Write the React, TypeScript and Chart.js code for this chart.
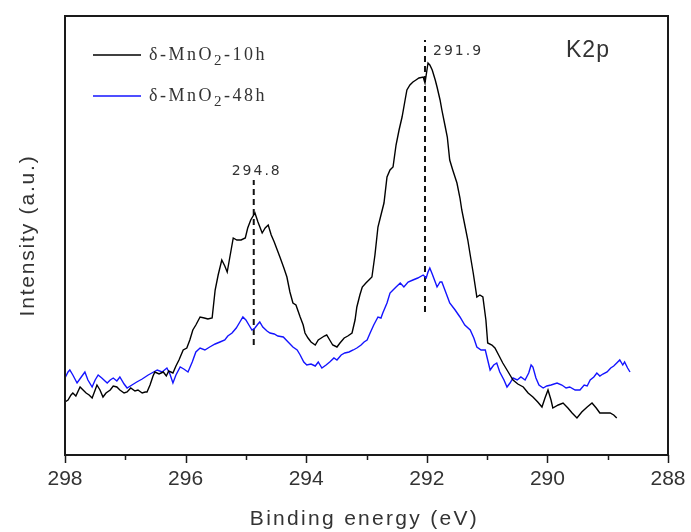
import { useEffect, useRef } from 'react';
import { Chart, registerables } from 'chart.js';
Chart.register(...registerables);

// δ-MnO2-10h (binding energy in eV, intensity in a.u.)
const energy10h = [298.00,297.95,297.90,297.87,297.82,297.75,297.70,297.65,297.60,297.55,297.50,297.47,297.42,297.37,297.32,297.25,297.20,297.14,297.09,297.02,296.97,296.91,296.84,296.79,296.72,296.67,296.64,296.59,296.54,296.51,296.44,296.37,296.32,296.28,296.21,296.16,296.11,296.04,295.98,295.93,295.88,295.83,295.76,295.69,295.63,295.56,295.51,295.46,295.40,295.35,295.31,295.26,295.21,295.15,295.08,295.01,294.97,294.92,294.85,294.80,294.73,294.68,294.63,294.58,294.53,294.48,294.43,294.37,294.32,294.27,294.22,294.17,294.10,294.05,294.02,293.97,293.92,293.85,293.80,293.75,293.70,293.66,293.61,293.56,293.49,293.44,293.37,293.31,293.24,293.19,293.16,293.11,293.07,293.01,292.96,292.91,292.86,292.81,292.76,292.71,292.66,292.61,292.56,292.51,292.46,292.41,292.36,292.33,292.28,292.23,292.18,292.13,292.06,292.03,291.98,291.95,291.91,291.86,291.83,291.78,291.75,291.70,291.66,291.62,291.57,291.50,291.45,291.42,291.37,291.32,291.28,291.23,291.20,291.17,291.12,291.07,291.02,290.99,290.92,290.87,290.80,290.74,290.65,290.57,290.49,290.40,290.32,290.24,290.16,290.09,290.04,289.99,289.94,289.91,289.82,289.74,289.66,289.59,289.51,289.43,289.34,289.26,289.19,289.13,289.04,288.96,288.90,288.85];
const intensity10h = [53,55,60,62,59,68,65,62,60,57,65,70,65,58,62,65,69,68,65,62,63,67,64,65,62,63,63,70,79,83,81,83,79,84,82,89,95,105,107,115,125,130,138,137,136,137,165,180,195,189,183,200,217,215,215,217,227,235,242,233,222,227,230,220,213,205,197,187,178,163,152,150,138,130,122,117,113,110,115,117,119,120,115,110,108,112,117,119,122,135,148,160,168,172,175,178,200,228,240,252,278,285,288,310,325,338,355,365,370,373,375,377,378,372,392,390,385,375,368,355,345,330,318,295,285,272,257,245,230,215,200,182,170,158,160,158,135,112,110,107,99,92,83,75,71,68,62,58,53,48,57,65,55,47,50,52,47,42,37,43,48,52,47,42,42,42,40,37];

// δ-MnO2-48h
const energy48h = [298.00,297.95,297.92,297.87,297.80,297.73,297.67,297.62,297.55,297.50,297.45,297.39,297.30,297.25,297.20,297.14,297.09,297.02,296.97,296.89,296.81,296.72,296.62,296.56,296.47,296.39,296.31,296.26,296.21,296.16,296.09,296.03,295.96,295.89,295.83,295.76,295.68,295.60,295.51,295.43,295.35,295.30,295.23,295.16,295.10,295.05,295.00,294.95,294.90,294.85,294.80,294.77,294.72,294.65,294.60,294.53,294.47,294.38,294.30,294.22,294.15,294.10,294.04,293.99,293.92,293.85,293.80,293.74,293.67,293.61,293.54,293.49,293.42,293.36,293.29,293.22,293.16,293.09,293.04,292.99,292.94,292.88,292.81,292.76,292.73,292.66,292.61,292.56,292.51,292.44,292.38,292.31,292.23,292.15,292.06,292.01,291.98,291.95,291.91,291.86,291.83,291.78,291.75,291.70,291.65,291.62,291.53,291.45,291.37,291.28,291.22,291.17,291.10,291.03,290.99,290.95,290.89,290.84,290.79,290.72,290.67,290.62,290.57,290.50,290.44,290.37,290.31,290.27,290.24,290.19,290.14,290.07,290.01,289.94,289.84,289.76,289.69,289.63,289.54,289.46,289.39,289.34,289.29,289.23,289.18,289.13,289.08,289.01,288.95,288.90,288.85,288.80,288.75,288.72,288.67,288.63];
const intensity48h = [77,83,85,80,72,78,83,75,68,75,80,77,72,75,77,74,78,71,67,70,73,76,80,82,85,83,87,81,72,80,88,86,83,93,103,107,105,108,111,113,115,119,122,127,133,138,135,130,125,127,131,133,128,124,122,121,119,118,113,108,105,100,93,90,91,89,93,87,90,93,97,95,100,102,103,105,107,110,113,115,122,130,138,137,142,152,162,165,168,172,168,173,175,177,180,177,183,187,181,173,168,173,173,165,157,152,145,138,130,125,117,108,105,105,95,85,90,92,83,75,68,72,77,75,78,75,82,90,88,77,70,67,69,70,72,70,67,68,65,65,70,69,75,78,82,79,81,83,87,89,92,95,90,93,87,83];

const xTickValues = [298, 296, 294, 292, 290, 288];
const peakEnergies = [294.87, 292.03];
const peakLabels = ['294.8', '291.9'];
const peakLineTop = [275, 415];
const peakLineBottom = [110, 143];
const legendParts = [['δ-MnO', '2', '-10h'], ['δ-MnO', '2', '-48h']];
const seriesColors = ['#000000', '#1414ff'];
const panelLabel = 'K2p';
const xTitle = 'Binding energy (eV)';
const yTitle = 'Intensity (a.u.)';

const decor = {
  id: 'decor',
  afterDraw(chart: any) {
    const { ctx, chartArea: a, scales } = chart;
    const xs = scales.x;
    const ys = scales.y;
    ctx.save();
    // frame
    ctx.strokeStyle = '#1a1a1a';
    ctx.lineWidth = 2;
    ctx.strokeRect(a.left, a.top, a.right - a.left, a.bottom - a.top);
    // ticks
    ctx.lineWidth = 1.5;
    for (let v = 288; v <= 298; v += 1) {
      const px = Math.round(xs.getPixelForValue(v)) + 0.5;
      const len = v % 2 === 0 ? 8 : 5;
      ctx.beginPath();
      ctx.moveTo(px, a.bottom);
      ctx.lineTo(px, a.bottom + len);
      ctx.stroke();
    }
    // peak labels
    ctx.fillStyle = '#333';
    ctx.font = '14px "DejaVu Sans"';
    (ctx as any).letterSpacing = '2px';
    ctx.textBaseline = 'alphabetic';
    peakLabels.forEach((t, i) => {
      const px = xs.getPixelForValue(peakEnergies[i]);
      const py = ys.getPixelForValue(peakLineTop[i]);
      if (i === 0) {
        ctx.textAlign = 'center';
        ctx.fillText(t, px + 3, py - 5);
      } else {
        ctx.textAlign = 'left';
        ctx.fillText(t, px + 8, py + 15);
      }
    });
    // K2p
    ctx.font = '23px "Liberation Sans"';
    (ctx as any).letterSpacing = '1px';
    ctx.textAlign = 'left';
    ctx.textBaseline = 'middle';
    ctx.fillText(panelLabel, 566, 51);
    // legend
    legendParts.forEach((parts, i) => {
      const y = 55 + i * 41;
      ctx.strokeStyle = seriesColors[i];
      ctx.lineWidth = 1.5;
      ctx.beginPath();
      ctx.moveTo(93, y);
      ctx.lineTo(141, y);
      ctx.stroke();
      ctx.fillStyle = '#333';
      ctx.textAlign = 'left';
      ctx.textBaseline = 'middle';
      (ctx as any).letterSpacing = '2.5px';
      let x = 149;
      ctx.font = '18px "Liberation Serif"';
      ctx.fillText(parts[0], x, y);
      x += ctx.measureText(parts[0]).width;
      ctx.font = '15px "Liberation Serif"';
      ctx.fillText(parts[1], x, y + 6);
      x += ctx.measureText(parts[1]).width;
      ctx.font = '18px "Liberation Serif"';
      ctx.fillText(parts[2], x, y);
    });
    // titles
    ctx.fillStyle = '#333';
    ctx.font = '21px "Liberation Sans"';
    ctx.textAlign = 'center';
    ctx.textBaseline = 'middle';
    (ctx as any).letterSpacing = '2.3px';
    ctx.fillText(xTitle, (a.left + a.right) / 2 - 2, 519);
    (ctx as any).letterSpacing = '1.8px';
    ctx.translate(28, (a.top + a.bottom) / 2);
    ctx.rotate(-Math.PI / 2);
    ctx.fillText(yTitle, 0, 0);
    ctx.restore();
  },
};

export default function App() {
  const ref = useRef<HTMLCanvasElement>(null);
  useEffect(() => {
    document.body.style.margin = '0';
    const chart = new Chart(ref.current!, {
      type: 'line',
      data: {
        datasets: [
          {
            label: 'δ-MnO2-10h',
            data: energy10h.map((x, i) => ({ x, y: intensity10h[i] })),
            borderColor: seriesColors[0],
            borderWidth: 1.4,
            pointRadius: 0,
            tension: 0,
          },
          {
            label: 'δ-MnO2-48h',
            data: energy48h.map((x, i) => ({ x, y: intensity48h[i] })),
            borderColor: seriesColors[1],
            borderWidth: 1.4,
            pointRadius: 0,
            tension: 0,
          },
          ...peakEnergies.map((e, i) => ({
            label: 'peak' + i,
            data: [
              { x: e, y: peakLineBottom[i] },
              { x: e, y: peakLineTop[i] },
            ],
            borderColor: '#111',
            borderWidth: 2,
            borderDash: [6, 4],
            pointRadius: 0,
          })),
        ],
      },
      options: {
        animation: false,
        responsive: false,
        parsing: true,
        layout: { padding: { left: 0, top: 16, right: 23, bottom: 0 } },
        plugins: { legend: { display: false }, tooltip: { enabled: false } },
        scales: {
          x: {
            type: 'linear',
            min: 288,
            max: 298,
            reverse: true,
            afterBuildTicks: (s: any) => {
              s.ticks = xTickValues.map((v) => ({ value: v }));
            },
            afterFit: (s: any) => {
              s.height = 77;
              s.paddingLeft = 0;
              s.paddingRight = 0;
            },
            grid: { display: false, drawTicks: false },
            border: { display: false },
            ticks: {
              padding: 12,
              color: '#333',
              font: { family: 'Liberation Sans', size: 21 },
              maxRotation: 0,
            },
          },
          y: {
            type: 'linear',
            min: 0,
            max: 439,
            afterFit: (s: any) => {
              s.width = 65;
              s.paddingTop = 0;
              s.paddingBottom = 0;
            },
            grid: { display: false, drawTicks: false },
            border: { display: false },
            ticks: { display: false },
          },
        },
      },
      plugins: [decor],
    } as any);
    return () => chart.destroy();
  }, []);
  return <canvas ref={ref} width={691} height={532} style={{ display: 'block' }} />;
}
